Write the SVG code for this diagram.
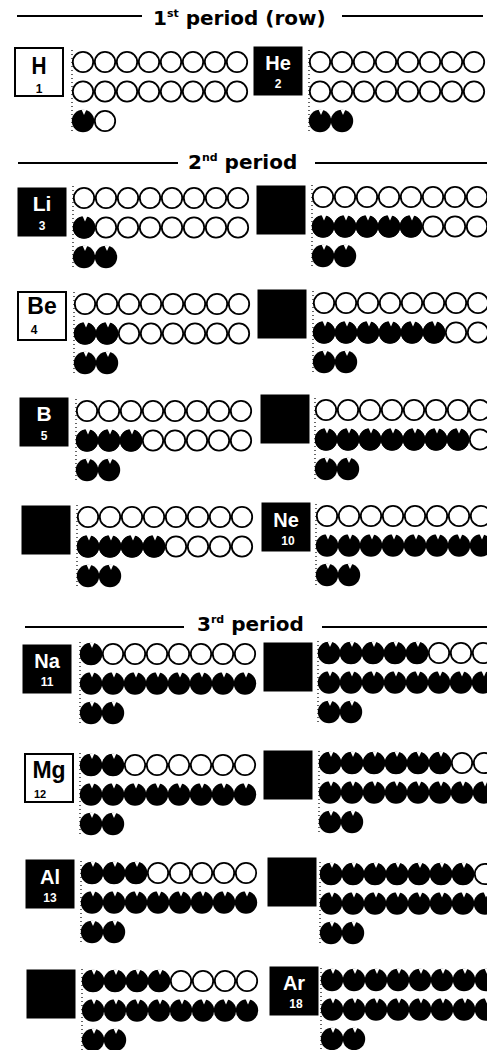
<svg xmlns="http://www.w3.org/2000/svg" xmlns:xlink="http://www.w3.org/1999/xlink" width="487" height="1050" viewBox="0 0 487 1050">
<style>
.t{font-family:"DejaVu Sans","Liberation Sans",sans-serif;font-weight:bold;font-size:20px;fill:#000}
.sup{font-size:11px}
.rule{stroke:#000;stroke-width:2}
.bw{fill:#fff;stroke:#000;stroke-width:2}
.bb{fill:#000;stroke:#000;stroke-width:1}
.sym{font-family:"Liberation Sans",Arial,sans-serif;font-weight:bold;fill:#000;text-anchor:middle}
.symw{font-family:"Liberation Sans",Arial,sans-serif;font-weight:bold;fill:#fff;text-anchor:middle}
.dot{stroke:#000;stroke-width:1.2;stroke-dasharray:1 3}
</style>
<defs>
<circle id="e0" r="10.2" fill="#fff" stroke="#000" stroke-width="1.8"/>
<g id="e1"><circle r="11.2" fill="#000"/><path d="M-1.5,-11.5 L3.5,-11.5 L1,-6 Z" fill="#fff"/></g>
<g id="r8e"><use href="#e0" x="11"/><use href="#e0" x="33"/><use href="#e0" x="55"/><use href="#e0" x="77"/><use href="#e0" x="99"/><use href="#e0" x="121"/><use href="#e0" x="143"/><use href="#e0" x="165"/></g>
<g id="r8f"><use href="#e1" x="11"/><use href="#e1" x="33"/><use href="#e1" x="55"/><use href="#e1" x="77"/><use href="#e1" x="99"/><use href="#e1" x="121"/><use href="#e1" x="143"/><use href="#e1" x="165"/></g>
<g id="r2f"><use href="#e1" x="11"/><use href="#e1" x="33"/></g>
</defs>
<rect width="487" height="1050" fill="#fff"/>

<g id="titles">
<line class="rule" x1="17" y1="16" x2="142" y2="16"/><line class="rule" x1="342" y1="16" x2="483" y2="16"/>
<text class="t" x="153" y="25">1<tspan class="sup" dy="-8">st</tspan><tspan dy="8"> period (row)</tspan></text>
<line class="rule" x1="18" y1="163" x2="178" y2="163"/><line class="rule" x1="315" y1="163" x2="487" y2="163"/>
<text class="t" x="188" y="169">2<tspan class="sup" dy="-8">nd</tspan><tspan dy="8"> period</tspan></text>
<line class="rule" x1="25" y1="627" x2="184" y2="627"/><line class="rule" x1="322" y1="627" x2="487" y2="627"/>
<text class="t" x="197" y="631">3<tspan class="sup" dy="-8">rd</tspan><tspan dy="8"> period</tspan></text>
</g>

<g id="H">
<rect class="bw" x="15" y="48" width="48" height="48"/>
<text class="sym" x="39" y="74" font-size="24" textLength="15" lengthAdjust="spacingAndGlyphs">H</text>
<text class="sym" x="39" y="93" font-size="12">1</text>
<line class="dot" x1="72" y1="50" x2="72" y2="132"/>
<use href="#r8e" x="72" y="62"/><use href="#r8e" x="72" y="91.5"/>
<use href="#e1" x="83" y="121"/><use href="#e0" x="105" y="121"/>
</g>
<g id="He">
<rect class="bb" x="254" y="47" width="48" height="48"/>
<text class="symw" x="278" y="70" font-size="20">He</text>
<text class="symw" x="278" y="88" font-size="12">2</text>
<line class="dot" x1="309" y1="50" x2="309" y2="132"/>
<use href="#r8e" x="309" y="62"/><use href="#r8e" x="309" y="91.5"/><use href="#r2f" x="309" y="121"/>
</g>

<g id="Li">
<rect class="bb" x="18" y="188" width="48" height="48"/>
<text class="symw" x="42" y="211" font-size="21">Li</text>
<text class="symw" x="42" y="230" font-size="12">3</text>
<line class="dot" x1="73" y1="186" x2="73" y2="268"/>
<use href="#r8e" x="73" y="198"/><use href="#r8e" x="73" y="227.5"/><use href="#e1" x="84" y="227.5"/><use href="#r2f" x="73" y="257"/>
</g>
<g id="N">
<rect class="bb" x="257" y="186" width="48" height="48"/>
<line class="dot" x1="312" y1="185" x2="312" y2="267"/>
<use href="#r8e" x="312" y="197"/><use href="#r8e" x="312" y="226.5"/>
<use href="#e1" x="323" y="226.5"/><use href="#e1" x="345" y="226.5"/><use href="#e1" x="367" y="226.5"/><use href="#e1" x="389" y="226.5"/><use href="#e1" x="411" y="226.5"/>
<use href="#r2f" x="312" y="256"/>
</g>
<g id="Be">
<rect class="bw" x="18" y="292" width="48" height="48"/>
<text class="sym" x="42" y="314" font-size="23">Be</text>
<text class="sym" x="34" y="334" font-size="12">4</text>
<line class="dot" x1="74" y1="292" x2="74" y2="374"/>
<use href="#r8e" x="74" y="304"/><use href="#r8e" x="74" y="333.5"/><use href="#e1" x="85" y="333.5"/><use href="#e1" x="107" y="333.5"/><use href="#r2f" x="74" y="363"/>
</g>
<g id="O">
<rect class="bb" x="258" y="290" width="48" height="48"/>
<line class="dot" x1="313" y1="291" x2="313" y2="373"/>
<use href="#r8e" x="313" y="303"/><use href="#r8e" x="313" y="332.5"/>
<use href="#e1" x="324" y="332.5"/><use href="#e1" x="346" y="332.5"/><use href="#e1" x="368" y="332.5"/><use href="#e1" x="390" y="332.5"/><use href="#e1" x="412" y="332.5"/><use href="#e1" x="434" y="332.5"/>
<use href="#r2f" x="313" y="362"/>
</g>
<g id="B">
<rect class="bb" x="20" y="398" width="48" height="48"/>
<text class="symw" x="44" y="421" font-size="21">B</text>
<text class="symw" x="44" y="440" font-size="12">5</text>
<line class="dot" x1="76" y1="399" x2="76" y2="481"/>
<use href="#r8e" x="76" y="411"/><use href="#r8e" x="76" y="440.5"/>
<use href="#e1" x="87" y="440.5"/><use href="#e1" x="109" y="440.5"/><use href="#e1" x="131" y="440.5"/>
<use href="#r2f" x="76" y="470"/>
</g>
<g id="F">
<rect class="bb" x="261" y="395" width="48" height="48"/>
<line class="dot" x1="315" y1="398" x2="315" y2="480"/>
<use href="#r8e" x="315" y="410"/><use href="#r8e" x="315" y="439.5"/>
<use href="#e1" x="326" y="439.5"/><use href="#e1" x="348" y="439.5"/><use href="#e1" x="370" y="439.5"/><use href="#e1" x="392" y="439.5"/><use href="#e1" x="414" y="439.5"/><use href="#e1" x="436" y="439.5"/><use href="#e1" x="458" y="439.5"/>
<use href="#r2f" x="315" y="469"/>
</g>
<g id="C">
<rect class="bb" x="22" y="506" width="48" height="48"/>
<line class="dot" x1="77" y1="505" x2="77" y2="587"/>
<use href="#r8e" x="77" y="517"/><use href="#r8e" x="77" y="546.5"/>
<use href="#e1" x="88" y="546.5"/><use href="#e1" x="110" y="546.5"/><use href="#e1" x="132" y="546.5"/><use href="#e1" x="154" y="546.5"/>
<use href="#r2f" x="77" y="576"/>
</g>
<g id="Ne">
<rect class="bb" x="262" y="503" width="48" height="48"/>
<text class="symw" x="286" y="527" font-size="20">Ne</text>
<text class="symw" x="288" y="545" font-size="12">10</text>
<line class="dot" x1="316" y1="504" x2="316" y2="586"/>
<use href="#r8e" x="316" y="516"/><use href="#r8f" x="316" y="545.5"/><use href="#r2f" x="316" y="575"/>
</g>

<g id="Na">
<rect class="bb" x="23" y="645" width="48" height="48"/>
<text class="symw" x="47" y="668" font-size="20">Na</text>
<text class="symw" x="47" y="686" font-size="12">11</text>
<line class="dot" x1="80" y1="642" x2="80" y2="724"/>
<use href="#r8e" x="80" y="654"/><use href="#e1" x="91" y="654"/><use href="#r8f" x="80" y="683.5"/><use href="#r2f" x="80" y="713"/>
</g>
<g id="P">
<rect class="bb" x="264" y="643" width="48" height="48"/>
<line class="dot" x1="318" y1="641" x2="318" y2="723"/>
<use href="#r8e" x="318" y="653"/>
<use href="#e1" x="329" y="653"/><use href="#e1" x="351" y="653"/><use href="#e1" x="373" y="653"/><use href="#e1" x="395" y="653"/><use href="#e1" x="417" y="653"/>
<use href="#r8f" x="318" y="682.5"/><use href="#r2f" x="318" y="712"/>
</g>
<g id="Mg">
<rect class="bw" x="25" y="754" width="48" height="48"/>
<text class="sym" x="49" y="778" font-size="23">Mg</text>
<text class="sym" x="40" y="798" font-size="11">12</text>
<line class="dot" x1="80" y1="753" x2="80" y2="835"/>
<use href="#r8e" x="80" y="765"/><use href="#e1" x="91" y="765"/><use href="#e1" x="113" y="765"/>
<use href="#r8f" x="80" y="794.5"/><use href="#r2f" x="80" y="824"/>
</g>
<g id="S">
<rect class="bb" x="264" y="751" width="48" height="48"/>
<line class="dot" x1="319" y1="751" x2="319" y2="833"/>
<use href="#r8e" x="319" y="763"/>
<use href="#e1" x="330" y="763"/><use href="#e1" x="352" y="763"/><use href="#e1" x="374" y="763"/><use href="#e1" x="396" y="763"/><use href="#e1" x="418" y="763"/><use href="#e1" x="440" y="763"/>
<use href="#r8f" x="319" y="792.5"/><use href="#r2f" x="319" y="822"/>
</g>
<g id="Al">
<rect class="bb" x="26" y="860" width="48" height="48"/>
<text class="symw" x="50" y="884" font-size="20">Al</text>
<text class="symw" x="50" y="902" font-size="12">13</text>
<line class="dot" x1="81" y1="861" x2="81" y2="943"/>
<use href="#r8e" x="81" y="873"/><use href="#e1" x="92" y="873"/><use href="#e1" x="114" y="873"/><use href="#e1" x="136" y="873"/>
<use href="#r8f" x="81" y="902.5"/><use href="#r2f" x="81" y="932"/>
</g>
<g id="Cl">
<rect class="bb" x="268" y="858" width="48" height="48"/>
<line class="dot" x1="320" y1="862" x2="320" y2="944"/>
<use href="#r8e" x="320" y="874"/>
<use href="#e1" x="331" y="874"/><use href="#e1" x="353" y="874"/><use href="#e1" x="375" y="874"/><use href="#e1" x="397" y="874"/><use href="#e1" x="419" y="874"/><use href="#e1" x="441" y="874"/><use href="#e1" x="463" y="874"/>
<use href="#r8f" x="320" y="903.5"/><use href="#r2f" x="320" y="933"/>
</g>
<g id="Si">
<rect class="bb" x="27" y="970" width="48" height="48"/>
<line class="dot" x1="82" y1="969" x2="82" y2="1050"/>
<use href="#r8e" x="82" y="981"/><use href="#e1" x="93" y="981"/><use href="#e1" x="115" y="981"/><use href="#e1" x="137" y="981"/><use href="#e1" x="159" y="981"/>
<use href="#r8f" x="82" y="1010.5"/><use href="#r2f" x="82" y="1040"/>
</g>
<g id="Ar">
<rect class="bb" x="270" y="967" width="48" height="48"/>
<text class="symw" x="294" y="990" font-size="20">Ar</text>
<text class="symw" x="296" y="1008" font-size="12">18</text>
<line class="dot" x1="321" y1="968" x2="321" y2="1050"/>
<use href="#r8f" x="321" y="980"/><use href="#r8f" x="321" y="1009.5"/><use href="#r2f" x="321" y="1039"/>
</g>
</svg>
